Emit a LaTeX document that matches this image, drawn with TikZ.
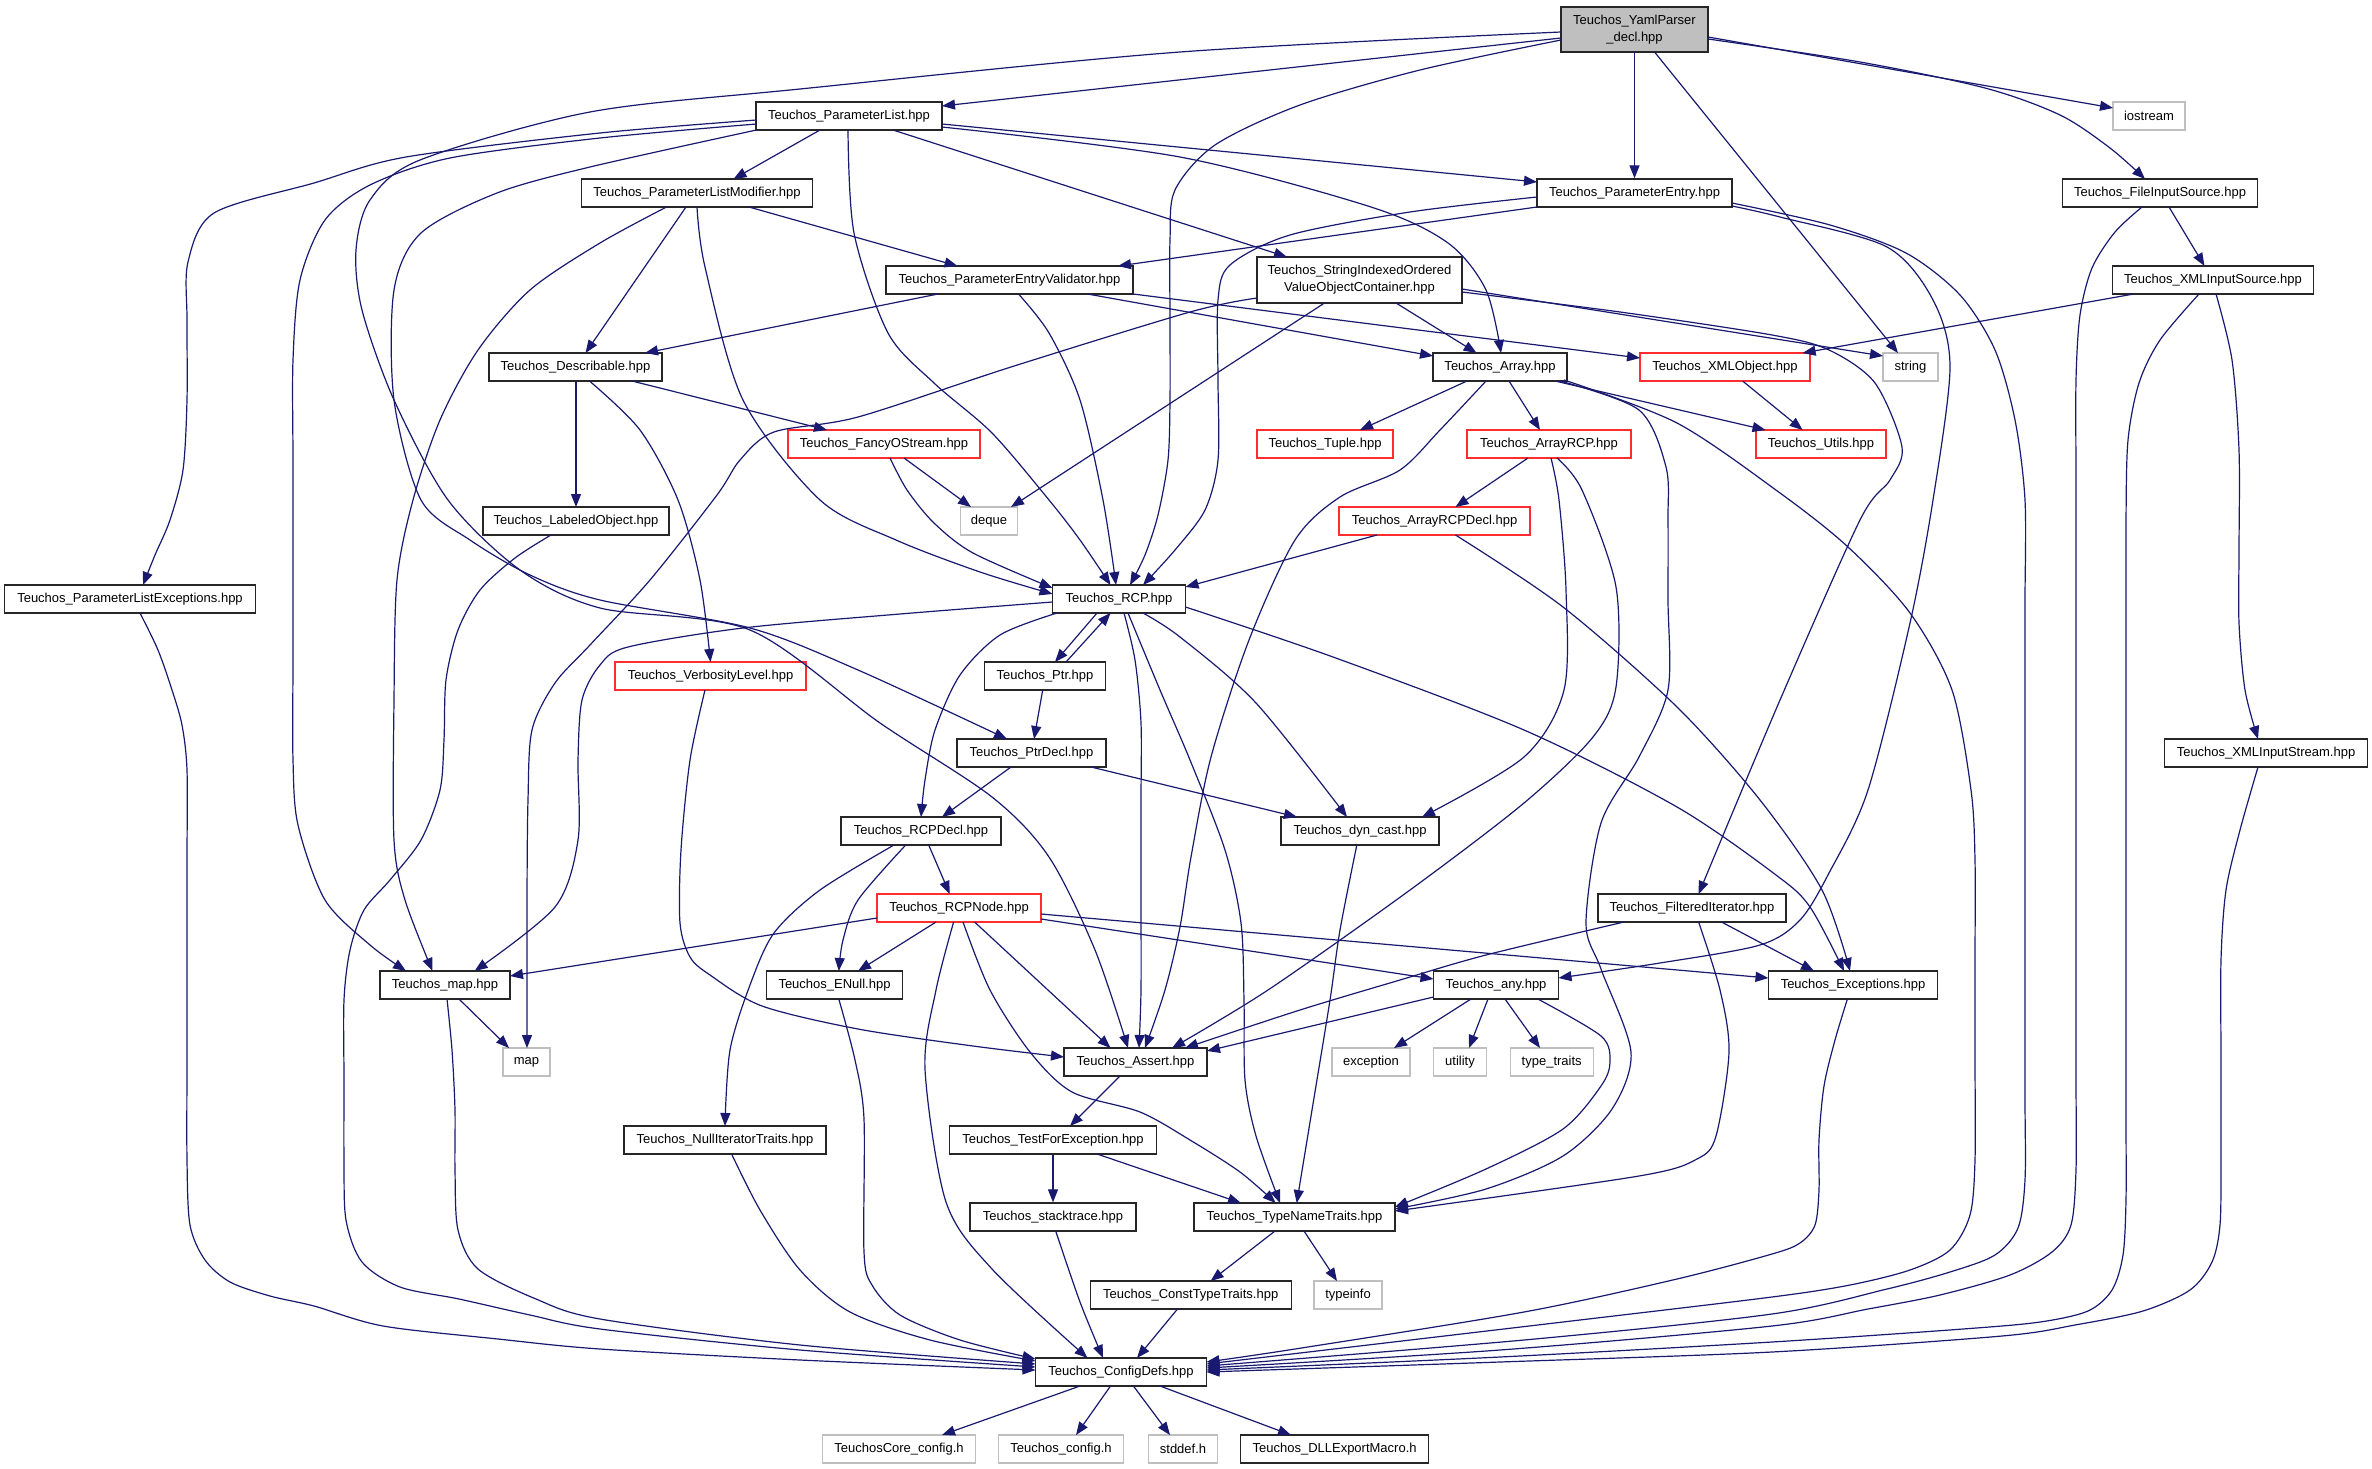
\documentclass[tikz,border=0pt]{standalone}
\usepackage{fontspec}
\setmainfont{Liberation Sans}
\usetikzlibrary{arrows.meta,calc}
\definecolor{mblue}{RGB}{25,25,112}
\definecolor{redb}{RGB}{255,45,45}
\definecolor{grayb}{RGB}{191,191,191}
\definecolor{rootfill}{RGB}{191,191,191}
\newcommand\nodefont{\fontsize{13pt}{17pt}\selectfont}
\tikzset{
 nb/.style={draw=black!85, line width=1.3pt, fill=white, minimum height=28pt, inner sep=0pt, font=\nodefont},
 rb/.style={nb, draw=redb},
 gb/.style={nb, draw=grayb},
 root/.style={nb, fill=rootfill, minimum height=45pt, align=center},
 dep/.style={draw=mblue, line width=1.2pt, -{Triangle[length=13pt,width=10pt]}},
}
\begin{document}
\begin{tikzpicture}[x=1pt,y=-1pt]
\fill[white] (0,0) rectangle (2372,1469);
\useasboundingbox (0,0) rectangle (2372,1469);
% nodes
\node[root, minimum width=147pt] (yaml) at (1634.5,29.5) {Teuchos\_YamlParser\\\_decl.hpp};
\node[nb, minimum width=186pt] (pl) at (849,116) {Teuchos\_ParameterList.hpp};
\node[nb, minimum width=195pt] (pe) at (1634.5,193) {Teuchos\_ParameterEntry.hpp};
\node[gb, minimum width=72pt] (ios) at (2149,116) {iostream};
\node[nb, minimum width=195pt] (fis) at (2160,193) {Teuchos\_FileInputSource.hpp};
\node[nb, minimum width=231pt] (plm) at (697,193) {Teuchos\_ParameterListModifier.hpp};
\node[nb, minimum width=247pt] (pev) at (1009.5,280) {Teuchos\_ParameterEntryValidator.hpp};
\node[nb, minimum width=205pt, minimum height=46pt, align=center] (sio) at (1359.5,280) {Teuchos\_StringIndexedOrdered\\ValueObjectContainer.hpp};
\node[nb, minimum width=173pt] (desc) at (575.5,367) {Teuchos\_Describable.hpp};
\node[nb, minimum width=134pt] (arr) at (1500,367) {Teuchos\_Array.hpp};
\node[rb, minimum width=170pt] (xmlo) at (1725,367) {Teuchos\_XMLObject.hpp};
\node[gb, minimum width=55pt] (str) at (1910.5,367) {string};
\node[nb, minimum width=201pt] (xis) at (2213,280) {Teuchos\_XMLInputSource.hpp};
\node[rb, minimum width=192pt] (fos) at (884,444) {Teuchos\_FancyOStream.hpp};
\node[rb, minimum width=136pt] (tup) at (1325,444) {Teuchos\_Tuple.hpp};
\node[rb, minimum width=164pt] (arcp) at (1549,444) {Teuchos\_ArrayRCP.hpp};
\node[rb, minimum width=130pt] (utl) at (1821,444) {Teuchos\_Utils.hpp};
\node[nb, minimum width=186pt] (lab) at (576,521) {Teuchos\_LabeledObject.hpp};
\node[gb, minimum width=57pt] (deq) at (989,521) {deque};
\node[rb, minimum width=191pt] (arcpd) at (1434.5,521) {Teuchos\_ArrayRCPDecl.hpp};
\node[nb, minimum width=251pt] (ple) at (130,599) {Teuchos\_ParameterListExceptions.hpp};
\node[nb, minimum width=133pt] (rcp) at (1119,599) {Teuchos\_RCP.hpp};
\node[rb, minimum width=191pt] (verb) at (710.5,676) {Teuchos\_VerbosityLevel.hpp};
\node[nb, minimum width=121pt] (ptr) at (1045,676) {Teuchos\_Ptr.hpp};
\node[nb, minimum width=149pt] (ptrd) at (1031.5,753) {Teuchos\_PtrDecl.hpp};
\node[nb, minimum width=158pt] (dyn) at (1360,831) {Teuchos\_dyn\_cast.hpp};
\node[nb, minimum width=203pt] (xstr) at (2266,753) {Teuchos\_XMLInputStream.hpp};
\node[nb, minimum width=160pt] (rcpd) at (921,831) {Teuchos\_RCPDecl.hpp};
\node[rb, minimum width=164pt] (rcpn) at (959,908) {Teuchos\_RCPNode.hpp};
\node[nb, minimum width=188pt] (filt) at (1692,908) {Teuchos\_FilteredIterator.hpp};
\node[nb, minimum width=130pt] (maph) at (445,985) {Teuchos\_map.hpp};
\node[nb, minimum width=136pt] (enull) at (834.5,985) {Teuchos\_ENull.hpp};
\node[nb, minimum width=125pt] (any) at (1496,985) {Teuchos\_any.hpp};
\node[nb, minimum width=169pt] (exc) at (1853,985) {Teuchos\_Exceptions.hpp};
\node[gb, minimum width=47pt] (mapg) at (526.5,1062) {map};
\node[nb, minimum width=143pt] (ast) at (1135.5,1062) {Teuchos\_Assert.hpp};
\node[gb, minimum width=78pt] (excp) at (1371,1062) {exception};
\node[gb, minimum width=53pt] (util) at (1460,1062) {utility};
\node[gb, minimum width=83pt] (tt) at (1551.7,1062) {type\_traits};
\node[nb, minimum width=202pt] (nit) at (725,1140) {Teuchos\_NullIteratorTraits.hpp};
\node[nb, minimum width=207pt] (tfe) at (1053,1140) {Teuchos\_TestForException.hpp};
\node[nb, minimum width=166pt] (stk) at (1053,1217) {Teuchos\_stacktrace.hpp};
\node[nb, minimum width=201pt] (tnt) at (1294.5,1217) {Teuchos\_TypeNameTraits.hpp};
\node[nb, minimum width=201pt] (ctt) at (1190.7,1295) {Teuchos\_ConstTypeTraits.hpp};
\node[gb, minimum width=68pt] (tinfo) at (1348,1295) {typeinfo};
\node[nb, minimum width=171pt] (cfg) at (1121,1372) {Teuchos\_ConfigDefs.hpp};
\node[gb, minimum width=153pt] (tcc) at (899,1449) {TeuchosCore\_config.h};
\node[gb, minimum width=125pt] (tc) at (1061,1449) {Teuchos\_config.h};
\node[gb, minimum width=69pt] (stddef) at (1183,1449) {stddef.h};
\node[nb, minimum width=188pt] (dll) at (1334.6,1449) {Teuchos\_DLLExportMacro.h};
% edges from YamlParser
\draw[dep] ($(yaml)+(-73.5,8.5)$) -- ($(pl)+(93,-10)$);
\draw[dep] plot[smooth] coordinates {($(yaml)+(-73.5,2.5)$) (1180,52) (800,89) (590,112) (420,160) (370,200) (356,250) (362,310) (394,400) (448,500) (520,570) (600,608) (750,630) (880,723) (992,797) (1049,857) (1095,950) ($(ast)+(-7.5,-14)$)};
\draw[dep] plot[smooth] coordinates {($(yaml)+(-73.5,10.5)$) (1420,70) (1300,105) (1215,145) (1175,190) (1170,240) (1170,320) (1170,400) (1168,460) (1158,515) (1145,555) ($(rcp)+(11,-14)$)};
\draw[dep] (yaml.south) -- (pe.north);
\draw[dep] ($(yaml)+(20,22.5)$) -- ($(str)+(-12.5,-14)$);
\draw[dep] ($(yaml)+(73.5,7.5)$) -- ($(ios)+(-36,-8)$);
\draw[dep] plot[smooth] coordinates {($(yaml)+(73.5,9.5)$) (1860,62) (1985,88) (2060,115) (2110,148) ($(fis)+(-15,-14)$)};
% ParameterList
\draw[dep] plot[smooth] coordinates {($(pl)+(-92.5,4)$) (600,133) (406,157) (314,183) (214,213) (188,262) (187,320) (187,400) (183,470) (170,520) (155,555) ($(ple)+(13,-14)$)};
\draw[dep] plot[smooth] coordinates {($(pl)+(-92.5,8)$) (600,138) (450,158) (370,185) (325,220) (300,280) (293,360) (293,460) (293,560) (293,660) (293,760) (298,825) (325,900) (370,945) ($(maph)+(-39,-14)$)};
\draw[dep] plot[smooth] coordinates {($(pl)+(-92.5,14)$) (590,167) (497,193) (421,233) (394,290) (394,400) (421,500) (470,540) (530,575) (600,600) (750,628) (858,670) ($(ptrd)+(-24.5,-14)$)};
\draw[dep] ($(pl)+(-29,14)$) -- ($(plm)+(36.5,-14)$);
\draw[dep] plot[smooth] coordinates {($(pl)+(-1,14)$) (854,233) (888,333) (934,383) (992,433) (1049,500) (1080,540) ($(rcp)+(-8.5,-14)$)};
\draw[dep] ($(pl)+(93,8)$) -- ($(pe)+(-97.5,-11)$);
\draw[dep] ($(pl)+(44,14)$) -- ($(sio)+(-72.5,-23)$);
\draw[dep] plot[smooth] coordinates {($(pl)+(93,11)$) (1180,157) (1371,207) (1448,243) (1486,290) ($(arr)+(1,-14)$)};
% ParameterEntry
\draw[dep] plot[smooth] coordinates {($(pe)+(-97.5,4)$) (1410,212) (1290,235) (1230,265) (1218,300) (1218,380) (1218,460) (1205,510) (1175,550) ($(rcp)+(24,-14)$)};
\draw[dep] ($(pe)+(-97.5,14)$) -- ($(pev)+(108.5,-14)$);
\draw[dep] plot[smooth] coordinates {($(pe)+(97.5,13)$) (1780,217) (1887,247) (1933,300) (1950,367) (1933,500) (1910,623) (1868,790) (1829,873) (1800,920) (1760,945) (1660,963) ($(any)+(62.5,-7)$)};
\draw[dep] plot[smooth] coordinates {($(pe)+(97.5,10)$) (1830,225) (1906,253) (1960,295) (1995,350) (2015,420) (2025,500) (2025,600) (2025,700) (2025,800) (2025,900) (2025,1000) (2025,1100) (2025,1180) (2018,1228) (1995,1255) (1950,1272) (1887,1289) (1772,1314) (1524,1340) ($(cfg)+(85.5,-6)$)};
% ParameterEntryValidator
\draw[dep] ($(pev)+(-71.5,14)$) -- ($(desc)+(69.5,-14)$);
\draw[dep] plot[smooth] coordinates {($(pev)+(9,14)$) (1049,333) (1080,400) (1103,500) ($(rcp)+(-3,-14)$)};
\draw[dep] ($(pev)+(78,14)$) -- ($(arr)+(-67,-11)$);
\draw[dep] ($(pev)+(123.5,14)$) -- ($(xmlo)+(-85,-9)$);
% ParameterListModifier
\draw[dep] ($(plm)+(-11,14)$) -- ($(desc)+(10,-14)$);
\draw[dep] ($(plm)+(52,14)$) -- ($(pev)+(-52,-14)$);
\draw[dep] plot[smooth] coordinates {($(plm)+(0,14)$) (705,267) (743,400) (820,500) (896,540) (980,572) ($(rcp)+(-66.5,-5)$)};
\draw[dep] plot[smooth] coordinates {($(plm)+(-30.5,14)$) (600,243) (530,290) (478,350) (440,420) (413,500) (397,580) (394,700) (394,840) (405,900) ($(maph)+(-12.5,-14)$)};
% StringIndexed
\draw[dep] ($(sio)+(36.5,23)$) -- ($(arr)+(-23.4,-14)$);
\draw[dep] ($(sio)+(-35,23)$) -- ($(deq)+(22,-14)$);
\draw[dep] plot[smooth] coordinates {($(sio)+(-102.5,18)$) (1190,312) (1011,367) (858,417) (774,432) (740,460) (717,495) (650,580) (590,645) (555,683) (532,730) (528,800) (527,900) ($(mapg)+(0.5,-14)$)};
\draw[dep] ($(sio)+(102.5,9)$) -- ($(str)+(-27.5,-11)$);
\draw[dep] plot[smooth] coordinates {($(sio)+(102.5,12)$) (1620,312) (1772,335) (1829,350) (1875,383) (1902,447) (1890,480) (1860,520) (1780,700) ($(filt)+(6.6,-14)$)};
% Array
\draw[dep] ($(arr)+(-33,14)$) -- ($(tup)+(35,-14)$);
\draw[dep] ($(arr)+(9,14)$) -- ($(arcp)+(-9,-14)$);
\draw[dep] ($(arr)+(55,14)$) -- ($(utl)+(-55.5,-14)$);
\draw[dep] plot[smooth] coordinates {($(arr)+(-14,14)$) (1440,430) (1400,470) (1340,497) (1295,540) (1249,640) (1211,757) (1191,857) (1180,927) (1165,990) ($(ast)+(9.5,-14)$)};
\draw[dep] plot[smooth] coordinates {($(arr)+(64,13)$) (1677,423) (1780,493) (1848,547) (1910,613) (1952,690) (1971,790) (1975,860) (1975,960) (1975,1060) (1975,1160) (1970,1215) (1950,1250) (1910,1270) (1850,1285) (1772,1297) (1563,1322) ($(cfg)+(85.5,-8)$)};
\draw[dep] plot[smooth] coordinates {($(arr)+(60,14)$) (1639,410) (1666,467) (1668,520) (1668,600) (1668,690) (1639,757) (1601,823) (1586,923) (1601,969) (1631,1052) (1612,1109) (1563,1156) (1486,1189) ($(tnt)+(100.5,-8)$)};
% ArrayRCP
\draw[dep] ($(arcp)+(-21,14)$) -- ($(arcpd)+(21,-14)$);
\draw[dep] plot[smooth] coordinates {($(arcp)+(2,14)$) (1559,500) (1566,590) (1564,690) (1524,757) ($(dyn)+(62,-14)$)};
\draw[dep] plot[smooth] coordinates {($(arcp)+(8,14)$) (1582,490) (1616,587) (1616,687) (1593,737) (1524,803) (1410,890) (1268,990) ($(ast)+(36.5,-14)$)};
\draw[dep] ($(arcpd)+(-57.5,14)$) -- ($(rcp)+(66.5,-12)$);
\draw[dep] plot[smooth] coordinates {($(arcpd)+(21,14)$) (1563,607) (1677,707) (1760,800) (1822,890) ($(exc)+(-3,-14)$)};
\draw[dep] ($(xmlo)+(17.6,14)$) -- ($(utl)+(-18.4,-14)$);
% FileInputSource / XML
\draw[dep] ($(fis)+(9,14)$) -- ($(xis)+(-8.5,-14)$);
\draw[dep] plot[smooth] coordinates {($(fis)+(-18,14)$) (2115,232) (2092,268) (2080,315) (2076,380) (2076,480) (2076,580) (2076,680) (2076,780) (2076,880) (2076,980) (2076,1080) (2076,1170) (2071,1225) (2052,1252) (2010,1275) (1940,1295) (1868,1309) (1772,1326) (1500,1350) ($(cfg)+(85.5,-4)$)};
\draw[dep] ($(xis)+(-79.3,14)$) -- ($(xmlo)+(77.6,-14)$);
\draw[dep] plot[smooth] coordinates {($(xis)+(3,14)$) (2232,360) (2239,450) (2239,550) (2239,623) (2245,690) ($(xstr)+(-8,-14)$)};
\draw[dep] plot[smooth] coordinates {($(xis)+(-14,14)$) (2160,340) (2139,383) (2128,440) (2126,520) (2126,620) (2126,720) (2126,820) (2126,920) (2126,1020) (2126,1120) (2126,1200) (2123,1255) (2112,1290) (2088,1311) (2040,1322) (1963,1329) (1772,1342) (1500,1357) ($(cfg)+(85.5,-2)$)};
\draw[dep] plot[smooth] coordinates {($(xstr)+(-8,14)$) (2240,830) (2226,890) (2221,960) (2221,1060) (2221,1160) (2220,1225) (2212,1262) (2190,1290) (2143,1311) (2075,1325) (2002,1336) (1772,1352) (1500,1362) ($(cfg)+(85.5,0)$)};
% Describable
\draw[dep] ($(desc)+(0.5,14)$) -- ($(lab)+(0,-14)$);
\draw[dep] plot[smooth] coordinates {($(desc)+(14,14)$) (640,430) (678,500) (700,580) ($(verb)+(0,-14)$)};
\draw[dep] ($(desc)+(56.5,14)$) -- ($(fos)+(-57,-14)$);
\draw[dep] plot[smooth] coordinates {($(fos)+(6,14)$) (907,490) (934,523) (973,553) ($(rcp)+(-66.5,-11)$)};
\draw[dep] ($(fos)+(20,14)$) -- ($(deq)+(-18,-14)$);
\draw[dep] plot[smooth] coordinates {($(lab)+(-25,14)$) (515,558) (480,590) (458,630) (446,680) (444,740) (440,790) (421,840) (390,880) (364,910) (350,950) (344,1000) (344,1080) (344,1160) (346,1220) (362,1262) (400,1287) (459,1299) (530,1315) (600,1329) (800,1350) ($(cfg)+(-85.5,-5)$)};
\draw[dep] plot[smooth] coordinates {($(ple)+(10,14)$) (158,650) (172,690) (182,725) (187,770) (187,860) (187,960) (187,1060) (187,1160) (190,1225) (205,1260) (230,1282) (270,1296) (314,1306) (383,1326) (498,1339) (600,1349) (800,1360) ($(cfg)+(-85.5,-2)$)};
\draw[dep] ($(maph)+(14,14)$) -- ($(mapg)+(-17.5,-14)$);
\draw[dep] plot[smooth] coordinates {($(maph)+(2,14)$) (452,1050) (455,1110) (455,1170) (458,1230) (478,1269) (536,1299) (600,1319) (800,1345) ($(cfg)+(-85.5,-8)$)};
% RCP
\draw[dep] plot[smooth] coordinates {($(rcp)+(-66.5,3)$) (900,614) (743,628) (628,647) (600,665) (582,700) (578,760) (578,840) (555,907) ($(maph)+(29.6,-14)$)};
\draw[dep] plot[smooth] coordinates {($(rcp)+(-62,14)$) (1000,635) (960,675) (935,730) (925,780) ($(rcpd)+(0,-14)$)};
\draw[dep] ($(rcp)+(-22,14)$) -- ($(ptr)+(10,-14)$);
\draw[dep] ($(ptr)+(21,-14)$) -- ($(rcp)+(-8.5,14)$);
\draw[dep] plot[smooth] coordinates {($(rcp)+(5,14)$) (1135,660) (1141,723) (1141,800) (1141,900) (1141,990) ($(ast)+(3.5,-14)$)};
\draw[dep] plot[smooth] coordinates {($(rcp)+(24,14)$) (1180,637) (1256,703) ($(dyn)+(-13,-14)$)};
\draw[dep] plot[smooth] coordinates {($(rcp)+(9,14)$) (1160,690) (1190,760) (1225,850) (1241,923) (1244,1000) (1245,1080) (1256,1136) ($(tnt)+(-14.5,-14)$)};
\draw[dep] plot[smooth] coordinates {($(rcp)+(66.5,8)$) (1333,657) (1524,730) (1677,807) (1776,875) (1810,907) ($(exc)+(-9,-14)$)};
\draw[dep] ($(ptr)+(-2.3,14)$) -- ($(ptrd)+(2.5,-14)$);
\draw[dep] ($(ptrd)+(-20.5,14)$) -- ($(rcpd)+(21,-14)$);
\draw[dep] ($(ptrd)+(59.5,14)$) -- ($(dyn)+(-63,-14)$);
\draw[dep] plot[smooth] coordinates {($(dyn)+(-3.2,14)$) (1340,930) (1330,1000) (1312,1110) ($(tnt)+(2.2,-14)$)};
% RCPDecl / RCPNode
\draw[dep] ($(rcpd)+(7.7,14)$) -- ($(rcpn)+(-9.3,-14)$);
\draw[dep] plot[smooth] coordinates {($(rcpd)+(-15.3,14)$) (858,900) (843,940) ($(enull)+(4.3,-14)$)};
\draw[dep] plot[smooth] coordinates {($(rcpd)+(-27,14)$) (820,890) (774,933) (750,985) (730,1050) ($(nit)+(0,-14)$)};
\draw[dep] ($(rcpn)+(-82,10)$) -- ($(maph)+(65,-9)$);
\draw[dep] ($(rcpn)+(-23,14)$) -- ($(enull)+(23.5,-14)$);
\draw[dep] plot[smooth] coordinates {($(rcpn)+(-5.4,14)$) (936,990) (925,1069) (946,1202) (992,1269) ($(cfg)+(-33.5,-14)$)};
\draw[dep] plot[smooth] coordinates {($(rcpn)+(4,14)$) (990,990) (1030,1052) (1072,1092) (1140,1112) (1190,1140) (1240,1172) ($(tnt)+(-18.8,-14)$)};
\draw[dep] ($(rcpn)+(15.6,14)$) -- ($(ast)+(-25,-14)$);
\draw[dep] ($(rcpn)+(82,6)$) -- ($(exc)+(-84.5,-7)$);
\draw[dep] ($(rcpn)+(82,11)$) -- ($(any)+(-62.5,-6)$);
\draw[dep] plot[smooth] coordinates {($(verb)+(-5.5,14)$) (690,760) (681,850) (680,923) (690,957) (710,975) (762,1006) (858,1029) (973,1046) ($(ast)+(-71.5,-5)$)};
% FilteredIterator
\draw[dep] plot[smooth] coordinates {($(filt)+(-68,14)$) (1486,955) (1400,980) (1300,1010) ($(ast)+(49.5,-14)$)};
\draw[dep] ($(filt)+(29.5,14)$) -- ($(exc)+(-39,-14)$);
\draw[dep] plot[smooth] coordinates {($(filt)+(6.6,14)$) (1720,990) (1729,1052) (1716,1136) (1697,1159) (1639,1176) ($(tnt)+(100.5,-6)$)};
% any
\draw[dep] ($(any)+(-25,14)$) -- ($(excp)+(23,-14)$);
\draw[dep] ($(any)+(-8,14)$) -- ($(util)+(9,-14)$);
\draw[dep] ($(any)+(9,14)$) -- ($(tt)+(-11.7,-14)$);
\draw[dep] ($(any)+(-62.5,12)$) -- ($(ast)+(71.5,-11)$);
\draw[dep] plot[smooth] coordinates {($(any)+(41.8,14)$) (1601,1036) (1610,1062) (1601,1086) (1563,1129) (1486,1169) ($(tnt)+(100.5,-10)$)};
% Assert and below
\draw[dep] ($(ast)+(-15.5,14)$) -- ($(tfe)+(17,-14)$);
\draw[dep] (tfe.south) -- (stk.north);
\draw[dep] ($(tfe)+(44,14)$) -- ($(tnt)+(-53.5,-14)$);
\draw[dep] ($(tnt)+(-19.5,14)$) -- ($(ctt)+(19.9,-14)$);
\draw[dep] ($(tnt)+(9.5,14)$) -- ($(tinfo)+(-11,-14)$);
\draw[dep] plot[smooth] coordinates {($(stk)+(2.7,14)$) (1080,1302) ($(cfg)+(-18,-14)$)};
\draw[dep] ($(ctt)+(-13.2,14)$) -- ($(cfg)+(16,-14)$);
\draw[dep] plot[smooth] coordinates {($(nit)+(6.6,14)$) (760,1210) (800,1270) (850,1312) (930,1340) ($(cfg)+(-85.5,-11)$)};
\draw[dep] plot[smooth] coordinates {($(enull)+(4.3,14)$) (855,1060) (864,1119) (864,1252) (872,1285) (900,1315) (960,1340) ($(cfg)+(-85.5,-13)$)};
\draw[dep] plot[smooth] coordinates {($(exc)+(-5.6,14)$) (1835,1040) (1824,1086) (1819,1140) (1819,1190) (1815,1225) (1800,1243) (1772,1254) (1677,1279) (1524,1312) (1295,1349) ($(cfg)+(85.5,-10)$)};
\draw[dep] ($(cfg)+(-41,14)$) -- ($(tcc)+(43,-14)$);
\draw[dep] ($(cfg)+(-10.5,14)$) -- ($(tc)+(15,-14)$);
\draw[dep] ($(cfg)+(12.4,14)$) -- ($(stddef)+(-13,-14)$);
\draw[dep] ($(cfg)+(39,14)$) -- ($(dll)+(-43.6,-14)$);
\end{tikzpicture}
\end{document}
